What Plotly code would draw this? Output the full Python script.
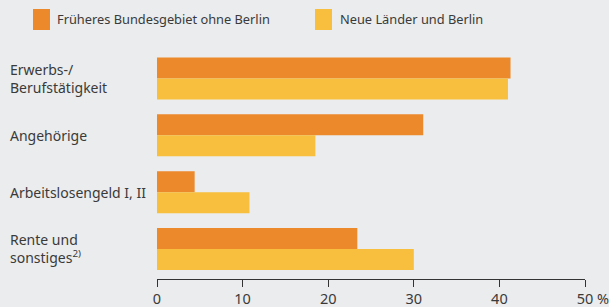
import plotly.graph_objects as go

categories = ["Erwerbs-/<br>Berufstätigkeit", "Angehörige", "Arbeitslosengeld I, II", "Rente und<br>sonstiges<sup>2)</sup>"]
series_names = ["Früheres Bundesgebiet ohne Berlin", "Neue Länder und Berlin"]
west = [41.3, 31.1, 4.4, 23.4]
east = [41.0, 18.5, 10.8, 30.0]
tick_vals = [0, 10, 20, 30, 40, 50]
tick_text = ["0", "10", "20", "30", "40", "50"]

colors = ["#ec8a2b", "#f7bf3d"]
bg = "#eaeced"
W, H = 609, 307
ML, MR, MT, MB = 157, 24, 50, 28
pw, ph = W - ML - MR, H - MT - MB

def px_x(p):
    return (p - ML) / pw

def px_y(p):
    return (H - MB - p) / ph

ypos = list(range(len(categories)))

fig = go.Figure()
for name, vals, c in zip(series_names, [west, east], colors):
    fig.add_trace(go.Bar(y=ypos, x=vals, orientation="h", name=name,
                         marker=dict(color=c, line=dict(width=0)), showlegend=False))

fig.update_layout(
    width=W, height=H,
    margin=dict(l=ML, r=MR, t=MT, b=MB, autoexpand=False),
    paper_bgcolor=bg, plot_bgcolor=bg,
    barmode="group", bargap=0.26, bargroupgap=0,
    font=dict(family="Noto Sans", size=13, color="#3a3a3a"),
    xaxis=dict(range=[0, 50], tickvals=tick_vals, ticktext=tick_text,
               showgrid=False, zeroline=False, showline=True, linecolor="#333",
               linewidth=1, ticks="outside", ticklen=7, tickcolor="#333",
               automargin=False,
               tickfont=dict(size=14.5, color="#3a3a3a")),
    yaxis=dict(range=[3.528, -0.5015], showticklabels=False, showgrid=False,
               zeroline=False, showline=False, ticks="", automargin=False),
)

# category labels, left aligned
for i, cat in enumerate(categories):
    fig.add_annotation(x=px_x(8), xref="paper", y=i, yref="y", text=cat,
                       showarrow=False, xanchor="left", yanchor="middle", align="left",
                       font=dict(size=14, color="#3a3a3a"))

# percent sign after last tick
fig.add_annotation(x=50, xref="x", y=px_y(298), yref="paper", text="%",
                   showarrow=False, xanchor="left", yanchor="middle", xshift=10,
                   font=dict(size=14.5, color="#3a3a3a"))

# manual legend
leg = [(33, 50, 55), (315, 332, 338)]
for (x0, x1, tx), name, c in zip(leg, series_names, colors):
    fig.add_shape(type="rect", xref="paper", yref="paper",
                  x0=px_x(x0), x1=px_x(x1), y0=px_y(30), y1=px_y(9),
                  fillcolor=c, line=dict(width=0))
    fig.add_annotation(x=px_x(tx), xref="paper", y=px_y(19.5), yref="paper", text=name,
                       showarrow=False, xanchor="left", yanchor="middle",
                       font=dict(size=12.8, color="#3a3a3a"))

fig.write_html("out.html", config={"displayModeBar": False},
               post_script="document.body.style.margin='0';")
